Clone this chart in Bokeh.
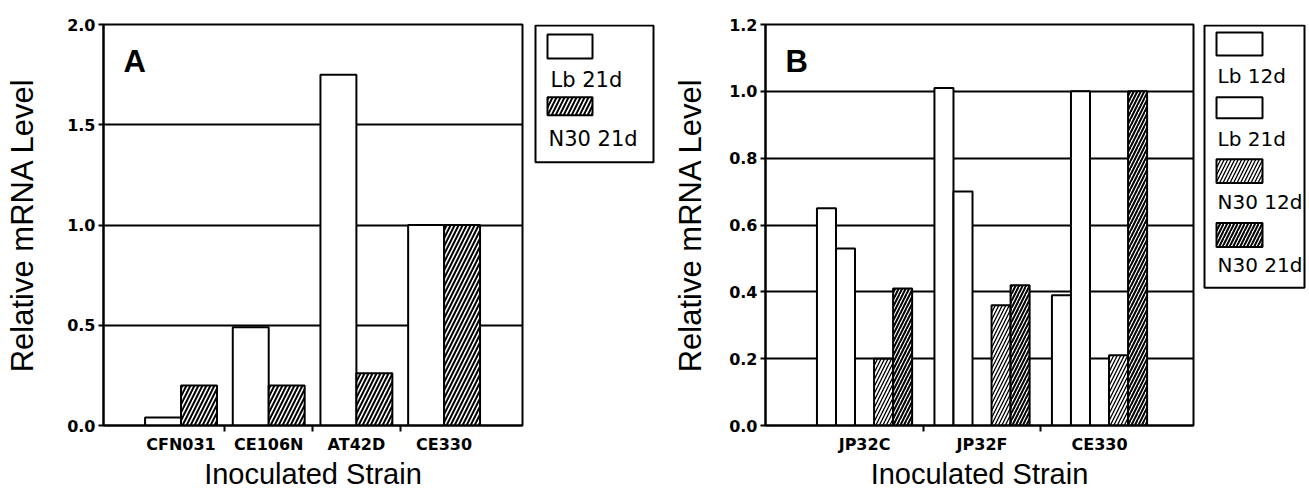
import numpy as np
from bokeh.plotting import figure
from bokeh.layouts import row
from bokeh.models import Range1d, FixedTicker, NumeralTickFormatter, Label
from bokeh.core.properties import value
from bokeh.embed import file_html
from bokeh.resources import INLINE

# ---------------- data ----------------
strains_a = ["CFN031", "CE106N", "AT42D", "CE330"]
a_lb_21d = [0.04, 0.49, 1.75, 1.00]
a_n30_21d = [0.20, 0.20, 0.26, 1.00]
yticks_a = [0.0, 0.5, 1.0, 1.5, 2.0]

strains_b = ["JP32C", "JP32F", "CE330"]
b_lb_12d = [0.65, 1.01, 0.39]
b_lb_21d = [0.53, 0.70, 1.00]
b_n30_12d = [0.20, 0.36, 0.21]
b_n30_21d = [0.41, 0.42, 1.00]
yticks_b = [0.0, 0.2, 0.4, 0.6, 0.8, 1.0, 1.2]

legend_a = ["Lb 21d", "N30 21d"]
legend_b = ["Lb 12d", "Lb 21d", "N30 12d", "N30 21d"]
x_title = "Inoculated Strain"
y_title = "Relative mRNA Level"

H = 492
TOP, BOTTOM = 24, 66
TICK_FONT = "DejaVu Sans"
LABEL_FONT = "Liberation Sans"
LEG_FONT = "DejaVu Sans"


def style(p, cats, yticks, ystand):
    p.outline_line_color = "black"
    p.outline_line_width = 2
    p.xgrid.visible = False
    p.ygrid.grid_line_color = "black"
    p.ygrid.grid_line_width = 2
    p.yaxis.ticker = FixedTicker(ticks=yticks)
    p.yaxis.formatter = NumeralTickFormatter(format="0.0")
    n = len(cats)
    p.xaxis.ticker = FixedTicker(ticks=list(range(1, n + 1)),
                                 minor_ticks=[i + 0.5 for i in range(1, n)])
    p.xaxis.major_label_overrides = {i + 1: c for i, c in enumerate(cats)}
    for ax in (p.xaxis, p.yaxis):
        ax.axis_line_color = "black"
        ax.axis_line_width = 2
        ax.major_tick_line_color = "black"
        ax.major_tick_line_width = 2
        ax.minor_tick_line_color = "black"
        ax.minor_tick_line_width = 2
        ax.major_label_text_font = TICK_FONT
        ax.major_label_text_font_style = "bold"
        ax.major_label_text_font_size = "16px"
        ax.major_label_text_color = "black"
        ax.axis_label_text_font = LABEL_FONT
        ax.axis_label_text_font_style = "normal"
        ax.axis_label_text_color = "black"
    p.yaxis.axis_label = y_title
    p.yaxis.axis_label_text_font_size = "31px"
    p.yaxis.major_tick_out = 5
    p.yaxis.major_tick_in = 0
    p.yaxis.minor_tick_out = 0
    p.yaxis.minor_tick_in = 0
    p.yaxis.major_label_standoff = 3
    p.yaxis.axis_label_standoff = ystand
    p.xaxis.axis_label = x_title
    p.xaxis.axis_label_text_font_size = "29px"
    p.xaxis.major_tick_out = 0
    p.xaxis.major_tick_in = 0
    p.xaxis.minor_tick_out = 6
    p.xaxis.minor_tick_in = 0
    p.xaxis.major_label_standoff = 3
    p.xaxis.axis_label_standoff = 1


def make_fig(width, left, right, xr, yr):
    p = figure(width=width, height=H, x_range=xr, y_range=yr,
               toolbar_location=None, output_backend="svg", title=None,
               min_border_left=left, min_border_right=right,
               min_border_top=TOP, min_border_bottom=BOTTOM)
    return p


def legend_fig(width):
    f = figure(width=width, height=H, x_range=Range1d(0, width),
               y_range=Range1d(H - BOTTOM, TOP),
               toolbar_location=None, output_backend="svg", title=None,
               x_axis_type=None, y_axis_type=None,
               min_border_left=0, min_border_right=0,
               min_border_top=TOP, min_border_bottom=BOTTOM)
    f.grid.visible = False
    f.outline_line_color = None
    return f


# ---------------- panel A ----------------
pa = make_fig(530, 103, 8, Range1d(0.116, 4.894), Range1d(0, 2.0))
style(pa, strains_a, yticks_a, 24)
xa = np.arange(1, len(strains_a) + 1)
wa = 0.41
pa.vbar(x=xa - wa / 2, top=a_lb_21d, width=wa, fill_color="white",
        line_color="black", line_width=2)
pa.vbar(x=xa + wa / 2, top=a_n30_21d, width=wa, fill_color="white",
        line_color="black", line_width=2, hatch_pattern="/",
        hatch_color="black", hatch_weight=2, hatch_scale=8)
pa.add_layout(Label(x=0.344, y=1.816, text="A", text_font=LABEL_FONT,
                    text_font_style="bold", text_font_size="31px",
                    text_baseline="middle", text_color="black"))

# ---------------- legend A ----------------
la = legend_fig(125)
la.quad(left=[5], right=[123], top=[25], bottom=[162], fill_color="white",
        line_color="black", line_width=2)
la.quad(left=[17], right=[62], top=[34], bottom=[58], fill_color="white",
        line_color="black", line_width=2)
la.quad(left=[17], right=[62], top=[97], bottom=[115], fill_color="white",
        line_color="black", line_width=2, hatch_pattern="/",
        hatch_color="black", hatch_weight=2, hatch_scale=8)
la.text(x=[20, 18], y=[79.5, 138.5], text=legend_a, text_font=value(LEG_FONT),
        text_font_size="21px", text_baseline="middle", text_align="left",
        text_color="black")

# ---------------- panel B ----------------
pb = make_fig(541, 110, 3, Range1d(0.157, 3.80), Range1d(0, 1.2))
style(pb, strains_b, yticks_b, 18)
xb = np.arange(1, len(strains_b) + 1)
wb = 0.162
pb.vbar(x=xb - 2 * wb, top=b_lb_12d, width=wb, fill_color="white",
        line_color="black", line_width=2)
pb.vbar(x=xb - wb, top=b_lb_21d, width=wb, fill_color="white",
        line_color="black", line_width=2)
pb.vbar(x=xb + wb, top=b_n30_12d, width=wb, fill_color="white",
        line_color="black", line_width=2, hatch_pattern="/",
        hatch_color="black", hatch_weight=1.3, hatch_scale=7)
pb.vbar(x=xb + 2 * wb, top=b_n30_21d, width=wb, fill_color="white",
        line_color="black", line_width=2, hatch_pattern="/",
        hatch_color="black", hatch_weight=2, hatch_scale=7)
pb.add_layout(Label(x=0.328, y=1.0896, text="B", text_font=LABEL_FONT,
                    text_font_style="bold", text_font_size="31px",
                    text_baseline="middle", text_color="black"))

# ---------------- legend B ----------------
lb = legend_fig(113)
lb.quad(left=[8], right=[108], top=[25], bottom=[288], fill_color="white",
        line_color="black", line_width=2)
box_tops = [32, 97, 159, 223]
box_bots = [55, 118, 183, 247]
lb.quad(left=[20, 20], right=[66, 66], top=box_tops[:2], bottom=box_bots[:2],
        fill_color="white", line_color="black", line_width=2)
lb.quad(left=[20], right=[66], top=[box_tops[2]], bottom=[box_bots[2]],
        fill_color="white", line_color="black", line_width=2, hatch_pattern="/",
        hatch_color="black", hatch_weight=1.3, hatch_scale=7)
lb.quad(left=[20], right=[66], top=[box_tops[3]], bottom=[box_bots[3]],
        fill_color="white", line_color="black", line_width=2, hatch_pattern="/",
        hatch_color="black", hatch_weight=2, hatch_scale=7)
lb.text(x=[21, 21, 21, 21], y=[75.5, 138.5, 201.5, 265], text=legend_b,
        text_font=value(LEG_FONT), text_font_size="20px",
        text_baseline="middle", text_align="left", text_color="black")

layout = row(pa, la, pb, lb)
open("out.html", "w").write(file_html(layout, INLINE))
